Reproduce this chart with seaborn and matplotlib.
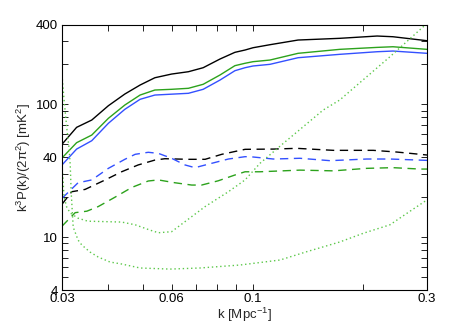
import numpy as np
import pandas as pd
import matplotlib
matplotlib.use("Agg")
import matplotlib.pyplot as plt
import seaborn as sns
from matplotlib.ticker import FixedLocator, NullFormatter

# --- data (k in Mpc^-1, power in mK^2) ---
k_solid = [0.030, 0.0329, 0.0362, 0.0402, 0.0446, 0.0491, 0.0539, 0.0599, 0.0666,
           0.0731, 0.0813, 0.0893, 0.0952, 0.1001, 0.1114, 0.133, 0.173, 0.219, 0.242, 0.30]
black_solid = [50.1, 67.2, 76.3, 97.8, 119.8, 140.0, 158.9, 169.4, 176.4,
               189.1, 219.9, 246.9, 257.0, 267.4, 281.8, 305.6, 314.8, 327.6, 323.6, 302.0]
green_solid = [39.5, 51.5, 58.8, 78.6, 99.0, 117.7, 128.4, 130.0, 132.3,
               141.8, 166.7, 195.9, 204.2, 209.9, 216.0, 242.7, 260.0, 269.0, 272.0, 260.0]
blue_solid = [35.0, 46.1, 53.3, 72.1, 91.9, 109.3, 117.7, 119.5, 121.3,
              130.0, 152.7, 179.5, 189.1, 194.8, 200.5, 224.9, 238.5, 249.5, 252.5, 242.7]

k_black_dash = [0.030, 0.0319, 0.0347, 0.0394, 0.0437, 0.0485, 0.0539, 0.0574, 0.0666,
                0.0740, 0.0822, 0.0952, 0.1138, 0.1319, 0.1662, 0.2138, 0.2478, 0.30]
black_dash = [17.7, 22.0, 22.9, 27.0, 31.1, 35.0, 38.1, 39.0, 38.6,
              38.6, 42.1, 45.9, 46.1, 46.7, 45.1, 45.1, 43.8, 41.6]

k_blue_dash = [0.030, 0.0332, 0.0362, 0.0402, 0.0446, 0.0476, 0.0517, 0.0551, 0.0599, 0.0652,
               0.0694, 0.0771, 0.0857, 0.0952, 0.0982, 0.1138, 0.1346, 0.1628, 0.2051, 0.2375, 0.30]
blue_dash = [19.6, 25.7, 27.0, 33.0, 38.6, 42.1, 43.6, 42.8, 39.3, 35.0,
             33.4, 36.0, 38.8, 40.4, 40.4, 38.8, 39.3, 37.7, 38.8, 38.8, 37.9]

k_green_dash = [0.030, 0.0326, 0.0351, 0.0377, 0.0419, 0.0466, 0.0517, 0.0551, 0.0612, 0.0680,
                0.0724, 0.0804, 0.0893, 0.0952, 0.1046, 0.1346, 0.1662, 0.2051, 0.2418, 0.287, 0.30]
green_dash = [12.1, 15.3, 15.7, 17.0, 20.0, 23.7, 26.5, 27.0, 25.7, 24.7,
              24.7, 26.6, 29.4, 31.1, 31.1, 32.0, 31.6, 33.0, 33.4, 32.6, 32.6]

k_dot_low = [0.030, 0.0304, 0.0309, 0.0314, 0.0316, 0.0318, 0.0322, 0.0332, 0.0340, 0.0358,
             0.0377, 0.0406, 0.0437, 0.0491, 0.0593, 0.0716, 0.0922, 0.1187, 0.1404, 0.173,
             0.2007, 0.2375, 0.264, 0.30]
dot_low = [166.7, 108.0, 67.9, 45.4, 35.0, 21.5, 11.9, 9.52, 8.73, 7.73,
           7.09, 6.50, 6.28, 5.86, 5.75, 5.86, 6.17, 6.73, 7.77, 9.2,
           10.7, 12.4, 15.1, 19.1]

k_dot_mid = [0.030, 0.0302, 0.0304, 0.0309, 0.0316, 0.0332, 0.0353, 0.0437, 0.0476, 0.0523,
             0.0551, 0.0599, 0.0652, 0.0740, 0.0857, 0.0952, 0.1046, 0.1212, 0.1559, 0.173,
             0.2375, 0.293, 0.30]
dot_mid = [35.0, 27.0, 20.1, 16.9, 15.2, 13.9, 13.2, 13.0, 12.4, 11.3,
           10.8, 11.0, 13.1, 17.0, 22.0, 27.0, 36.0, 50.9, 90.8, 108.0,
           228.8, 384.9, 400.0]

x_ticks = [0.03, 0.06, 0.1, 0.3]
x_tick_labels = ["0.03", "0.06", "0.1", "0.3"]
y_ticks = [4, 10, 40, 100, 400]
y_tick_labels = ["4", "10", "40", "100", "400"]

BLACK = "#000000"
GREEN = "#2ca21c"
BLUE = "#3350ff"
LGREEN = "#5cc84a"

series = [
    (k_solid, black_solid, BLACK, "-"),
    (k_solid, green_solid, GREEN, "-"),
    (k_solid, blue_solid, BLUE, "-"),
    (k_black_dash, black_dash, BLACK, (0, (6, 4))),
    (k_blue_dash, blue_dash, BLUE, (0, (6, 4))),
    (k_green_dash, green_dash, GREEN, (0, (6, 4))),
    (k_dot_low, dot_low, LGREEN, (0, (1, 2))),
    (k_dot_mid, dot_mid, LGREEN, (0, (1, 2))),
]

sns.set_style("ticks")
plt.rcParams["font.family"] = ["Liberation Sans", "DejaVu Sans"]
plt.rcParams["mathtext.default"] = "regular"

fig = plt.figure(figsize=(4.71, 3.26), dpi=100)
ax = fig.add_axes([0.1316, 0.1104, 0.775, 0.8144])

for kk, vv, col, ls in series:
    df = pd.DataFrame({"k": kk, "P": vv})
    sns.lineplot(data=df, x="k", y="P", ax=ax, color=col, linewidth=1.0,
                 linestyle=ls, sort=False, estimator=None)

ax.set_xscale("log")
ax.set_yscale("log")
ax.set_xlim(0.03, 0.3)
ax.set_ylim(4, 400)

ax.xaxis.set_major_locator(FixedLocator(x_ticks))
ax.set_xticklabels(x_tick_labels)
ax.xaxis.set_minor_locator(FixedLocator([0.04, 0.05, 0.07, 0.08, 0.09, 0.2]))
ax.xaxis.set_minor_formatter(NullFormatter())
ax.yaxis.set_major_locator(FixedLocator(y_ticks))
ax.set_yticklabels(y_tick_labels)
ax.yaxis.set_minor_locator(FixedLocator([5, 6, 7, 8, 9, 20, 30, 50, 60, 70, 80, 90, 200, 300]))
ax.yaxis.set_minor_formatter(NullFormatter())

ax.tick_params(which="both", direction="in", top=True, right=True,
               length=4, width=0.6, labelsize=9.5, colors="black")
ax.tick_params(axis="x", pad=2)
ax.tick_params(axis="y", pad=3)
for sp in ax.spines.values():
    sp.set_linewidth(0.8)
    sp.set_color("black")

ax.set_xlabel("k [Mpc$^{-1}$]", fontsize=9.5, labelpad=1)
ax.set_ylabel("k$^3$P(k)/(2\u03c0$^2$) [mK$^2$]", fontsize=9.5, labelpad=2)

fig.savefig("out.png", dpi=100)
